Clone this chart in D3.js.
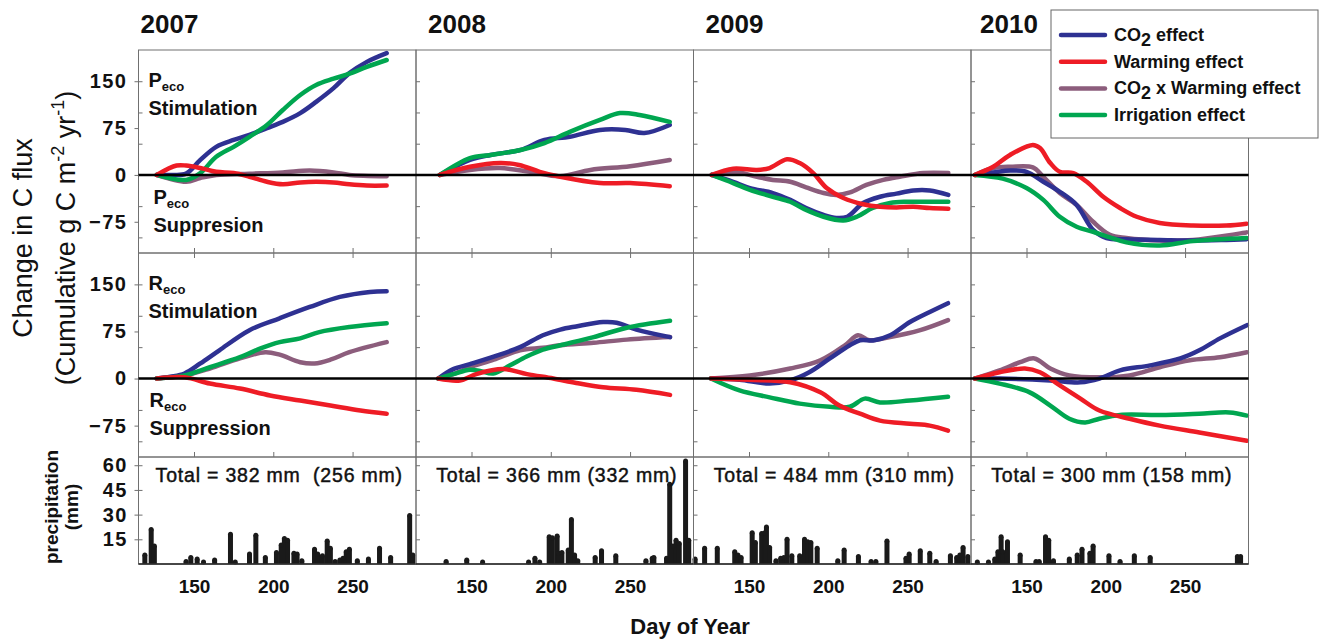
<!DOCTYPE html>
<html>
<head>
<meta charset="utf-8">
<script src="https://cdn.jsdelivr.net/npm/d3@7"></script>
<style>
  body { margin: 0; background: #fff; }
  svg { display: block; font-family: "Liberation Sans", Arial, Helvetica, sans-serif; }
</style>
</head>
<body>
<div id="chart"></div>
<script>
// ---- data ----
const years = ["2007", "2008", "2009", "2010"];
const seriesNames = ["CO2 effect", "Warming effect", "CO2 x Warming effect", "Irrigation effect"];
const fluxTicks = [-75, 0, 75, 150];
const rainTicks = [15, 30, 45, 60];
const dayTicks = [150, 200, 250];
const rainTotals = ["Total = 382 mm  (256 mm)", "Total = 366 mm (332 mm)",
                    "Total = 484 mm (310 mm)", "Total = 300 mm (158 mm)"];

// Peco (row 1), one list of [day, g C] per year
const pecoCO2 = [
  [[126.5,0],[135,0],[145,2],[154,24],[164,45],[175,56],[185,64],[196,75],[206,85],[217,99],[227,117],[238,139],[248,163],[259,181],[271.5,195]],
  [[130,0],[149,24],[162,32],[181,40],[196,56],[212,61],[231,72],[247,72],[259,67],[275,80]],
  [[126.5,0],[140,-11],[150.6,-21],[165,-29],[176,-40],[186,-53],[197,-64],[205,-69],[212,-67],[222,-45],[232.6,-35],[243,-30],[253.6,-25],[264,-25],[275.7,-32]],
  [[117.5,0],[129,4],[140,7],[150,5],[160.6,-11],[171,-27],[181.6,-48],[192,-88],[200.5,-101],[213,-103],[234,-104],[255,-105],[276,-104],[288.8,-103]]
];
const pecoWarm = [
  [[126.5,0],[139,15],[145,15],[154,11],[164,5],[175,3],[185,-3],[196,-11],[206,-15],[217,-12],[227,-11],[238,-12],[248,-15],[259,-17],[271.5,-17]],
  [[130,0],[149,13],[168,19],[180,16],[193,5],[206,-3],[231,-13],[250,-13],[275,-18]],
  [[126.5,0],[140,10],[155,8],[163,11],[174,25],[182,19],[190.5,3],[199,-21],[209.5,-37],[222,-47],[232.6,-51],[243,-52],[253.6,-51],[264,-53],[275.7,-54]],
  [[117.5,0],[129,13],[139.6,32],[154,48],[158.5,43],[165,19],[171,5],[179.5,3],[188,-11],[198.4,-35],[209,-53],[219.5,-67],[234,-77],[255,-81],[276,-81],[288.8,-78]]
];
const pecoCxW = [
  [[126.5,0],[145,-11],[154,-5],[164,0],[185,2],[206,4],[223,7],[238,4],[248,0],[271.5,-2]],
  [[130,0],[149,8],[168,11],[187,5],[206,-2],[225,8],[250,14],[275,24]],
  [[126.5,0],[140,5],[155,-3],[165,-8],[176,-11],[186,-20],[197,-29],[205,-32],[213.7,-28],[224,-16],[234.7,-8],[245,-3],[260,3],[275.7,3]],
  [[117.5,0],[129,11],[140,13],[154,12],[160.6,-3],[171,-29],[181.6,-48],[192,-75],[202.6,-96],[213,-101],[234,-105],[255,-104],[288.8,-92]]
];
const pecoIrr = [
  [[126.5,0],[145,-8],[154,3],[164,29],[175,45],[185,61],[196,80],[206,104],[217,128],[227,144],[238,154],[248,162],[259,173],[271.5,184]],
  [[130,0],[149,27],[162,32],[181,40],[196,51],[212,69],[231,88],[243.6,99],[256,96],[275,85]],
  [[126.5,0],[140,-13],[150.6,-24],[165,-35],[176,-43],[186,-56],[197,-67],[209.5,-73],[218,-67],[228,-53],[239,-45],[249,-43],[260,-43],[275.7,-43]],
  [[117.5,0],[135,-6],[150,-21],[160.6,-40],[171,-67],[181.6,-83],[192,-91],[202.6,-100],[213,-108],[234,-113],[255,-106],[288.8,-101]]
];

// Reco (row 2)
const recoCO2 = [
  [[126.5,0],[135,3],[144,8],[154,24],[166,45],[185,77],[204,96],[223,114],[242,130],[261,138],[271.5,139]],
  [[129,0],[138.5,15],[149,23],[164,35],[180.6,50],[195,69],[206,78],[216,83],[233,90],[241.5,89],[254,78],[275.2,66]],
  [[126,0],[144,-2],[163,-8],[176,-3],[188,10],[201,32],[213.6,53],[220,61],[229,61],[239,69],[251.5,90],[264,106],[275.5,120]],
  [[117.5,0],[133,0],[165,-3],[184,-6],[196,0],[209,13],[228,21],[247,32],[259,45],[272,64],[289,85]]
];
const recoWarm = [
  [[126.5,0],[144,2],[160,-8],[179,-16],[198,-27],[217,-35],[236,-43],[255,-51],[271.5,-56]],
  [[129,0],[142.7,-3],[153,7],[170,15],[185,7],[201.6,0],[216,-7],[233,-14],[254,-18],[275.2,-26]],
  [[126,0],[150,-2],[176,-6],[195,-22],[207,-43],[220,-56],[232.6,-67],[251.5,-72],[264,-75],[275.5,-83]],
  [[117.5,0],[133,10],[149,16],[158.5,10],[171,-11],[184,-32],[196,-51],[215,-64],[234,-75],[259,-86],[289,-99]]
];
const recoCxW = [
  [[126.5,0],[144,5],[160,16],[179,32],[195,42],[204,38],[217,26],[226,24],[236,30],[248,42],[271.5,58]],
  [[129,0],[138.5,7],[149,18],[164,30],[180.6,45],[195,49],[206,53],[227,57],[248,62],[275.2,66]],
  [[126,0],[150.6,5],[176,16],[195,29],[210.5,53],[218.7,69],[226,61],[239,66],[258,77],[275.5,93]],
  [[117.5,0],[133,13],[146,26],[155,32],[165,16],[177,5],[196,2],[215,5],[234,18],[253,29],[272,34],[289,42]]
];
const recoIrr = [
  [[126.5,0],[144,5],[160,18],[179,34],[192,48],[204,58],[217,64],[229,74],[248,82],[271.5,88]],
  [[129,0],[138.5,7],[149,14],[155.4,12],[163.7,8],[174.3,21],[184.8,35],[195,46],[206,53],[227,66],[248,81],[275.2,92]],
  [[126,0],[144,-19],[163,-30],[182,-40],[201,-45],[213.6,-45],[223,-32],[232.6,-38],[251.5,-35],[275.5,-29]],
  [[117.5,0],[133,-8],[152,-22],[165,-43],[177,-64],[187,-70],[196,-64],[209,-58],[234,-58],[259,-56],[278,-54],[289,-59]]
];

// daily precipitation [day, mm]
const rain2007 = [[119,5.5],[123,21],[125,11],[145,1.5],[148,4],[152,3],[156,1],[163,2.5],[173,18],[176,1],[185,6],[189,17.5],[195,4],[202,7],[205,11.5],[207,15.5],[209,14.5],[213,6.5],[215,6],[218,2],[226,9],[228,6],[231,5],[234,14],[236,9.5],[239,1.5],[242,2.5],[244,3.5],[246,7.5],[248,9],[253,2],[260,3],[267,9.5],[274,4],[286,29.5],[288,5.5]];
const rain2008 = [[134,1.5],[147,2.5],[157,1],[186,1],[190,3.5],[193,1],[199,16.5],[201,16],[204,17],[205,6.5],[207,7],[211,8.5],[213,27],[215,5.5],[217,2],[228,4],[232,8],[241,5],[260,2],[264,3.5],[265,4],[273,3.5],[275,48.5],[277,11],[279,14.5],[281,12.5],[285,62.5],[287,14.5]];
const rain2009 = [[116,3],[122,9.5],[130,9.5],[141,7.5],[143,5.5],[145,4],[152,19],[154,13],[158,18.5],[160,19],[161,22.5],[163,10],[167,2],[170,3.5],[172,4],[174,15],[177,5],[182,5],[185,15],[187,13.5],[189,13],[193,9.5],[206,2],[210,8.5],[219,4.5],[227,1.5],[230,1.5],[237,14],[249,3.5],[251,6],[258,8],[264,6.5],[268,1.5],[277,5],[281,4],[283,5.5],[285,10],[288,4.5]];
const rain2010 = [[119,1],[126,1],[130,3],[132,7.5],[134,16.5],[135,7.5],[138,13.5],[146,5.5],[156,1.5],[158,1.5],[162,16.5],[164,14.5],[167,2],[177,3],[182,5.5],[185,9],[190,6.5],[192,11],[202,5],[209,1.5],[218,5],[228,4],[283,4.5],[285,4.5]];

// ---- layout ----
const width = 1320, height = 640;
const colors = ["#2e3192", "#ee1c25", "#8c5d7c", "#00a650"];
const drawOrder = [2, 0, 3, 1];
const panelLeft = 138.5, panelW = 277.5;
const rowTop = [50, 253], rowBottom = [253, 457];
const rainTop = 457, rainBottom = 564;
const frameColor = "#707070";
const font = '"Liberation Sans", Arial, Helvetica, sans-serif';

const fluxRows = [
  [pecoCO2, pecoWarm, pecoCxW, pecoIrr],
  [recoCO2, recoWarm, recoCxW, recoIrr]
];
const rainByYear = [rain2007, rain2008, rain2009, rain2010];

const svg = d3.select("#chart").append("svg")
  .attr("width", width)
  .attr("height", height);
svg.append("rect").attr("width", width).attr("height", height).attr("fill", "#fff");

const xScales = years.map((y, i) => d3.scaleLinear()
  .domain([115, 290])
  .range([panelLeft + i * panelW, panelLeft + (i + 1) * panelW]));
const yFlux = rowTop.map((t, r) => d3.scaleLinear().domain([-125, 200]).range([rowBottom[r], t]));
const yRain = d3.scaleLinear().domain([0, 65]).range([rainBottom, rainTop]);

// panels
years.forEach((yr, i) => {
  const x = xScales[i];
  const x0 = x.range()[0];

  // inner ticks on the left edge of every panel
  yFlux.forEach((y, r) => {
    svg.append("g")
      .attr("transform", `translate(${x0},0)`)
      .call(d3.axisRight(y).tickValues([-100, -50, 50, 100, 150]).tickSize(4).tickFormat(""))
      .call(g => g.select(".domain").remove())
      .call(g => g.selectAll("line").attr("stroke", frameColor));
  });
  svg.append("g")
    .attr("transform", `translate(${x0},0)`)
    .call(d3.axisRight(yRain).tickValues(rainTicks).tickSize(4).tickFormat(""))
    .call(g => g.select(".domain").remove())
    .call(g => g.selectAll("line").attr("stroke", frameColor));

  // day ticks on the row borders
  svg.append("g").attr("transform", `translate(0,${rowBottom[0]})`)
    .call(d3.axisBottom(x).tickValues(dayTicks).tickSize(-5).tickFormat(""))
    .call(g => g.select(".domain").remove())
    .call(g => g.selectAll("line").attr("stroke", frameColor));
  svg.append("g").attr("transform", `translate(0,${rowTop[1]})`)
    .call(d3.axisTop(x).tickValues(dayTicks).tickSize(-5).tickFormat(""))
    .call(g => g.select(".domain").remove())
    .call(g => g.selectAll("line").attr("stroke", frameColor));
  svg.append("g").attr("transform", `translate(0,${rowBottom[1]})`)
    .call(d3.axisBottom(x).tickValues(dayTicks).tickSize(-5).tickFormat(""))
    .call(g => g.select(".domain").remove())
    .call(g => g.selectAll("line").attr("stroke", frameColor));

  // day labels below precipitation
  svg.append("g").attr("transform", `translate(0,${rainBottom})`)
    .call(d3.axisBottom(x).tickValues(dayTicks).tickSize(0).tickPadding(16))
    .call(g => g.select(".domain").remove())
    .call(g => g.selectAll("text")
      .attr("font-family", font).attr("font-size", 19).attr("font-weight", "bold").attr("fill", "#111"));

  // flux curves
  fluxRows.forEach((rowSeries, r) => {
    const line = d3.line()
      .x(d => x(d[0]))
      .y(d => yFlux[r](d[1]))
      .curve(d3.curveCatmullRom.alpha(0.5));
    drawOrder.forEach(s => {
      svg.append("path")
        .datum(rowSeries[s][i])
        .attr("d", line)
        .attr("fill", "none")
        .attr("stroke", colors[s])
        .attr("stroke-width", 4.5)
        .attr("stroke-linecap", "round")
        .attr("stroke-linejoin", "round");
    });
  });

  // precipitation bars
  const bars = svg.append("g").attr("fill", "#1a1a1a");
  bars.selectAll("rect").data(rainByYear[i]).join("rect")
    .attr("x", d => x(d[0]) - 2.5)
    .attr("y", d => yRain(d[1]))
    .attr("width", 5)
    .attr("height", d => rainBottom - yRain(d[1]));
  bars.selectAll("circle").data(rainByYear[i]).join("circle")
    .attr("cx", d => x(d[0]))
    .attr("cy", d => Math.min(yRain(d[1]), rainBottom - 2))
    .attr("r", 2.5);

  // frames
  [[rowTop[0], rowBottom[0]], [rowTop[1], rowBottom[1]], [rainTop, rainBottom]].forEach(([t, b]) => {
    svg.append("rect")
      .attr("x", x0).attr("y", t)
      .attr("width", panelW).attr("height", b - t)
      .attr("fill", "none")
      .attr("stroke", frameColor)
      .attr("stroke-width", 1);
  });
  svg.append("line")
    .attr("x1", x0).attr("x2", x0 + panelW)
    .attr("y1", rainBottom).attr("y2", rainBottom)
    .attr("stroke", "#222").attr("stroke-width", 1.5);

  // year title
  const titleDx = [2, 12, 12, 9];
  svg.append("text")
    .attr("x", x0 + titleDx[i]).attr("y", 33)
    .attr("font-size", 26).attr("font-weight", "bold").attr("fill", "#111")
    .text(yr);

  // precipitation total
  svg.append("text")
    .attr("x", x0 + panelW / 2 + 2).attr("y", 482)
    .attr("text-anchor", "middle")
    .attr("font-size", 19.5).attr("letter-spacing", 0.8)
    .attr("fill", "#111").attr("stroke", "#111").attr("stroke-width", 0.45)
    .style("white-space", "pre")
    .text(rainTotals[i]);
});

// zero lines
yFlux.forEach(y => {
  svg.append("line")
    .attr("x1", panelLeft).attr("x2", panelLeft + 4 * panelW)
    .attr("y1", y(0)).attr("y2", y(0))
    .attr("stroke", "#000").attr("stroke-width", 2.5);
});

// left value axes
yFlux.forEach(y => {
  svg.append("g").attr("transform", `translate(${panelLeft},0)`)
    .call(d3.axisLeft(y).tickValues(fluxTicks).tickSize(4).tickPadding(7))
    .call(g => g.select(".domain").remove())
    .call(g => g.selectAll("line").attr("stroke", frameColor))
    .call(g => g.selectAll("text")
      .attr("font-family", font).attr("font-size", 20).attr("font-weight", "bold")
      .attr("letter-spacing", 1.5).attr("fill", "#111"));
});
svg.append("g").attr("transform", `translate(${panelLeft},0)`)
  .call(d3.axisLeft(yRain).tickValues(rainTicks).tickSize(4).tickPadding(7))
  .call(g => g.select(".domain").remove())
  .call(g => g.selectAll("line").attr("stroke", frameColor))
  .call(g => g.selectAll("text")
    .attr("font-family", font).attr("font-size", 20).attr("font-weight", "bold")
    .attr("letter-spacing", 1.2).attr("fill", "#111"));

// Peco / Reco annotations
const annot = [
  { letter: "P", top: rowTop[0], dxTop: 10, dxBot: 15, lower: "Suppresion" },
  { letter: "R", top: rowTop[1], dxTop: 10, dxBot: 11, lower: "Suppression" }
];
annot.forEach(a => {
  const g = svg.append("g").attr("font-weight", "bold").attr("fill", "#111");
  [[a.dxTop, 37, "Stimulation"], [a.dxBot, 154, a.lower]].forEach(([dx, dy, word]) => {
    const t = g.append("text").attr("x", panelLeft + dx).attr("y", a.top + dy).attr("font-size", 20);
    t.append("tspan").text(a.letter);
    t.append("tspan").attr("font-size", 13).attr("dy", 3.5).text("eco");
    g.append("text").attr("x", panelLeft + dx).attr("y", a.top + dy + 28).attr("font-size", 20).text(word);
  });
});

// axis titles
const yTitle = svg.append("g").attr("transform", "translate(0,238)").attr("fill", "#111");
yTitle.append("text")
  .attr("transform", "translate(32,0) rotate(-90)")
  .attr("text-anchor", "middle").attr("font-size", 27)
  .text("Change in C flux");
const yt2 = yTitle.append("text")
  .attr("transform", "translate(75,0) rotate(-90)")
  .attr("text-anchor", "middle").attr("font-size", 27);
yt2.append("tspan").text("(Cumulative g C m");
yt2.append("tspan").attr("font-size", 18).attr("dy", -11).text("-2");
yt2.append("tspan").attr("dy", 11).text(" yr");
yt2.append("tspan").attr("font-size", 18).attr("dy", -11).text("-1");
yt2.append("tspan").attr("dy", 11).text(")");

const pTitle = svg.append("g").attr("transform", "translate(0,507)")
  .attr("font-weight", "bold").attr("font-size", 19).attr("fill", "#111");
pTitle.append("text").attr("transform", "translate(58,0) rotate(-90)")
  .attr("text-anchor", "middle").text("precipitation");
pTitle.append("text").attr("transform", "translate(78,0) rotate(-90)")
  .attr("text-anchor", "middle").text("(mm)");

svg.append("text")
  .attr("x", 690).attr("y", 634)
  .attr("text-anchor", "middle")
  .attr("font-size", 22).attr("font-weight", "bold").attr("fill", "#111")
  .text("Day of Year");

// legend
const legend = svg.append("g").attr("transform", "translate(1051,10)");
legend.append("rect")
  .attr("width", 267).attr("height", 128)
  .attr("fill", "#fff").attr("stroke", "#666").attr("stroke-width", 1);
seriesNames.forEach((name, s) => {
  const cy = 25 + s * 26.7;
  legend.append("line")
    .attr("x1", 10).attr("x2", 54).attr("y1", cy).attr("y2", cy)
    .attr("stroke", colors[s]).attr("stroke-width", 4.5).attr("stroke-linecap", "round");
  const t = legend.append("text")
    .attr("x", 63).attr("y", cy + 6)
    .attr("font-size", 18).attr("font-weight", "bold").attr("fill", "#111");
  if (name.startsWith("CO2")) {
    t.append("tspan").text("CO");
    t.append("tspan").attr("dy", 5).text("2");
    t.append("tspan").attr("dy", -5).text(name.slice(3));
  } else {
    t.text(name);
  }
});
</script>
</body>
</html>
